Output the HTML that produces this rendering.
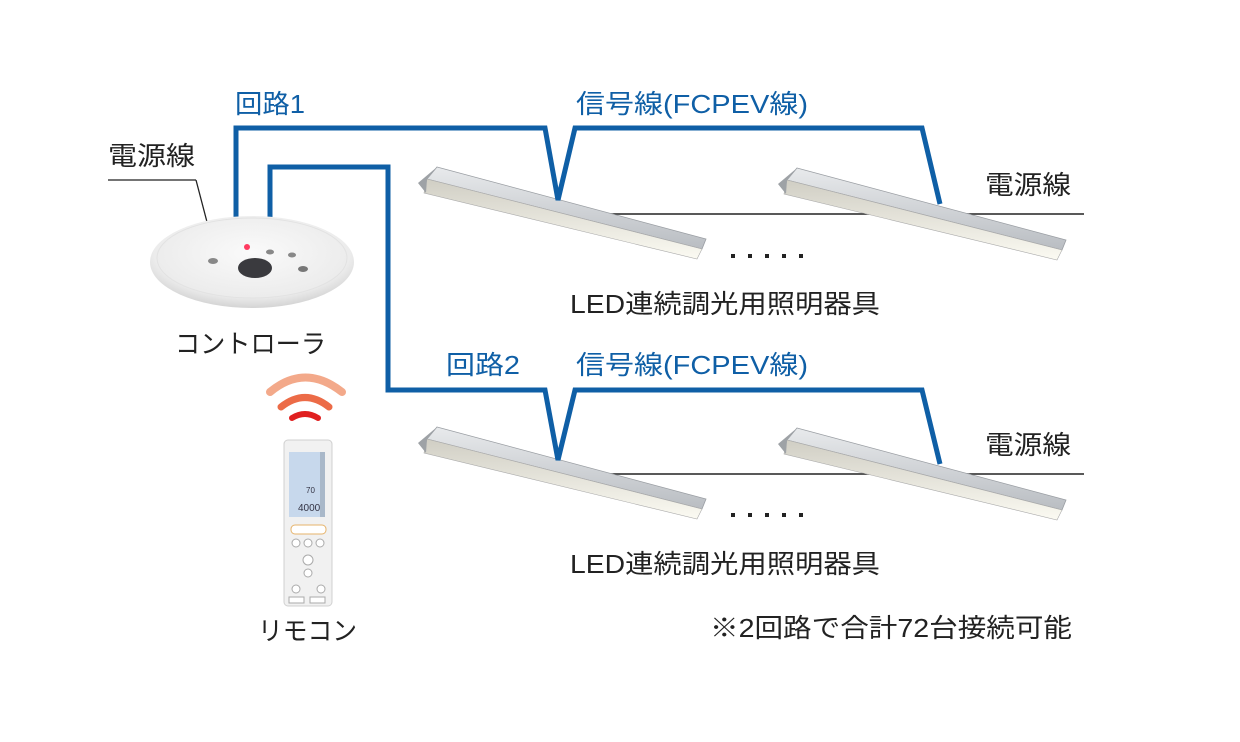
<!DOCTYPE html>
<html><head><meta charset="utf-8"><style>
html,body{margin:0;padding:0;background:#fff;}
svg{display:block}
text{font-family:"Liberation Sans","Noto Sans CJK JP",sans-serif;}
</style></head><body>
<svg width="1240" height="742" viewBox="0 0 1240 742" xmlns="http://www.w3.org/2000/svg">
<defs>
<linearGradient id="top" x1="0" y1="0" x2="0" y2="1">
<stop offset="0" stop-color="#e8eaec"/><stop offset="1" stop-color="#b9bdc2"/></linearGradient>
<linearGradient id="lite" x1="0" y1="0" x2="0" y2="1">
<stop offset="0" stop-color="#d0cec4"/><stop offset="1" stop-color="#fbfaf2"/></linearGradient>
<radialGradient id="disc" cx="0.5" cy="0.4" r="0.6">
<stop offset="0" stop-color="#fafafa"/><stop offset="0.8" stop-color="#ececec"/><stop offset="1" stop-color="#d4d4d4"/></radialGradient>
<g id="fix">
<polygon points="19,0 288,72 284,82 9,12" fill="url(#top)" stroke="#9a9ea3" stroke-width="0.8"/>
<polygon points="9,12 284,82 279,92 6,26" fill="url(#lite)" stroke="#aaa" stroke-width="0.6"/>
<polygon points="19,0 0,16 8,26 9,12" fill="#9ea2a6"/>
</g>
</defs>
<line x1="108" y1="180" x2="196" y2="180" stroke="#222" stroke-width="1.3"/>
<line x1="196" y1="180" x2="207" y2="222" stroke="#222" stroke-width="1.3"/>
<line x1="610" y1="214" x2="1084" y2="214" stroke="#222" stroke-width="1.5"/>
<line x1="610" y1="474" x2="1084" y2="474" stroke="#222" stroke-width="1.5"/>
<use href="#fix" transform="translate(418,167)"/>
<use href="#fix" transform="translate(778,168)"/>
<use href="#fix" transform="translate(418,427)"/>
<use href="#fix" transform="translate(778,428)"/>
<g fill="none" stroke="#0f5fa6" stroke-width="5" stroke-linejoin="miter">
<polyline points="236,218 236,128 545,128 558,200 575,128 922,128 940,204"/>
<polyline points="270,218 270,167 388,167 388,390 545,390 558,460 575,390 922,390 940,464"/>
</g>
<ellipse cx="252" cy="262" rx="102" ry="46" fill="url(#disc)"/>
<ellipse cx="252" cy="258" rx="95" ry="40" fill="none" stroke="#e2e2e2" stroke-width="1"/>
<ellipse cx="255" cy="268" rx="17" ry="10" fill="#3a3a3e"/>
<circle cx="247" cy="247" r="3" fill="#ff3a60"/>
<ellipse cx="213" cy="261" rx="5" ry="3" fill="#888"/>
<ellipse cx="270" cy="252" rx="4" ry="2.5" fill="#888"/>
<ellipse cx="292" cy="255" rx="4" ry="2.5" fill="#888"/>
<ellipse cx="303" cy="269" rx="5" ry="3" fill="#777"/>
<path d="M270 392 Q305 363 342 392" fill="none" stroke="#f3a98a" stroke-width="8" stroke-linecap="round"/>
<path d="M281 407 Q305 388 329 407" fill="none" stroke="#ec6b47" stroke-width="7" stroke-linecap="round"/>
<path d="M292 418 Q305 410 318 418" fill="none" stroke="#e02020" stroke-width="6" stroke-linecap="round"/>
<rect x="284" y="440" width="48" height="166" rx="4" fill="#f1f1f1" stroke="#d0d0d0"/>
<rect x="289" y="452" width="36" height="65" fill="#c7d8ec"/>
<rect x="320" y="452" width="5" height="65" fill="#a9b8c9"/>
<text x="306" y="493" font-size="8" fill="#334">70</text>
<text x="298" y="511" font-size="10" fill="#334">4000</text>
<rect x="291" y="525" width="35" height="9" rx="4" fill="#fff" stroke="#e6b36a"/>
<circle cx="296" cy="543" r="4" fill="#fff" stroke="#aaa"/><circle cx="308" cy="543" r="4" fill="#fff" stroke="#aaa"/><circle cx="320" cy="543" r="4" fill="#fff" stroke="#aaa"/>
<circle cx="308" cy="560" r="5" fill="#fff" stroke="#aaa"/><circle cx="308" cy="573" r="4" fill="#fff" stroke="#aaa"/>
<circle cx="296" cy="589" r="4" fill="#fff" stroke="#aaa"/><circle cx="321" cy="589" r="4" fill="#fff" stroke="#aaa"/>
<rect x="289" y="597" width="15" height="6" fill="#fff" stroke="#aaa"/><rect x="310" y="597" width="15" height="6" fill="#fff" stroke="#aaa"/>
<g font-size="26" fill="#0f5fa6">
<text x="235" y="113" textLength="70" lengthAdjust="spacingAndGlyphs">回路1</text>
<text x="576" y="113" textLength="232" lengthAdjust="spacingAndGlyphs">信号線(FCPEV線)</text>
<text x="446" y="374" textLength="74" lengthAdjust="spacingAndGlyphs">回路2</text>
<text x="576" y="374" textLength="232" lengthAdjust="spacingAndGlyphs">信号線(FCPEV線)</text>
</g>
<g font-size="26" fill="#222">
<text x="108" y="165" textLength="87" lengthAdjust="spacingAndGlyphs">電源線</text>
<text x="985" y="194" textLength="86" lengthAdjust="spacingAndGlyphs">電源線</text>
<text x="985" y="454" textLength="86" lengthAdjust="spacingAndGlyphs">電源線</text>
<text x="570" y="313" textLength="310" lengthAdjust="spacingAndGlyphs">LED連続調光用照明器具</text>
<text x="570" y="573" textLength="310" lengthAdjust="spacingAndGlyphs">LED連続調光用照明器具</text>
<text x="175" y="353" textLength="151" lengthAdjust="spacingAndGlyphs">コントローラ</text>
<text x="258" y="640" textLength="99" lengthAdjust="spacingAndGlyphs">リモコン</text>
<text x="710" y="637" textLength="362" lengthAdjust="spacingAndGlyphs">※2回路で合計72台接続可能</text>
</g>
<g fill="#222">
<rect x="731" y="254" width="4" height="4"/><rect x="748" y="254" width="4" height="4"/><rect x="765" y="254" width="4" height="4"/><rect x="782" y="254" width="4" height="4"/><rect x="799" y="254" width="4" height="4"/>
<rect x="731" y="513" width="4" height="4"/><rect x="748" y="513" width="4" height="4"/><rect x="765" y="513" width="4" height="4"/><rect x="782" y="513" width="4" height="4"/><rect x="799" y="513" width="4" height="4"/>
</g>
</svg>
</body></html>
